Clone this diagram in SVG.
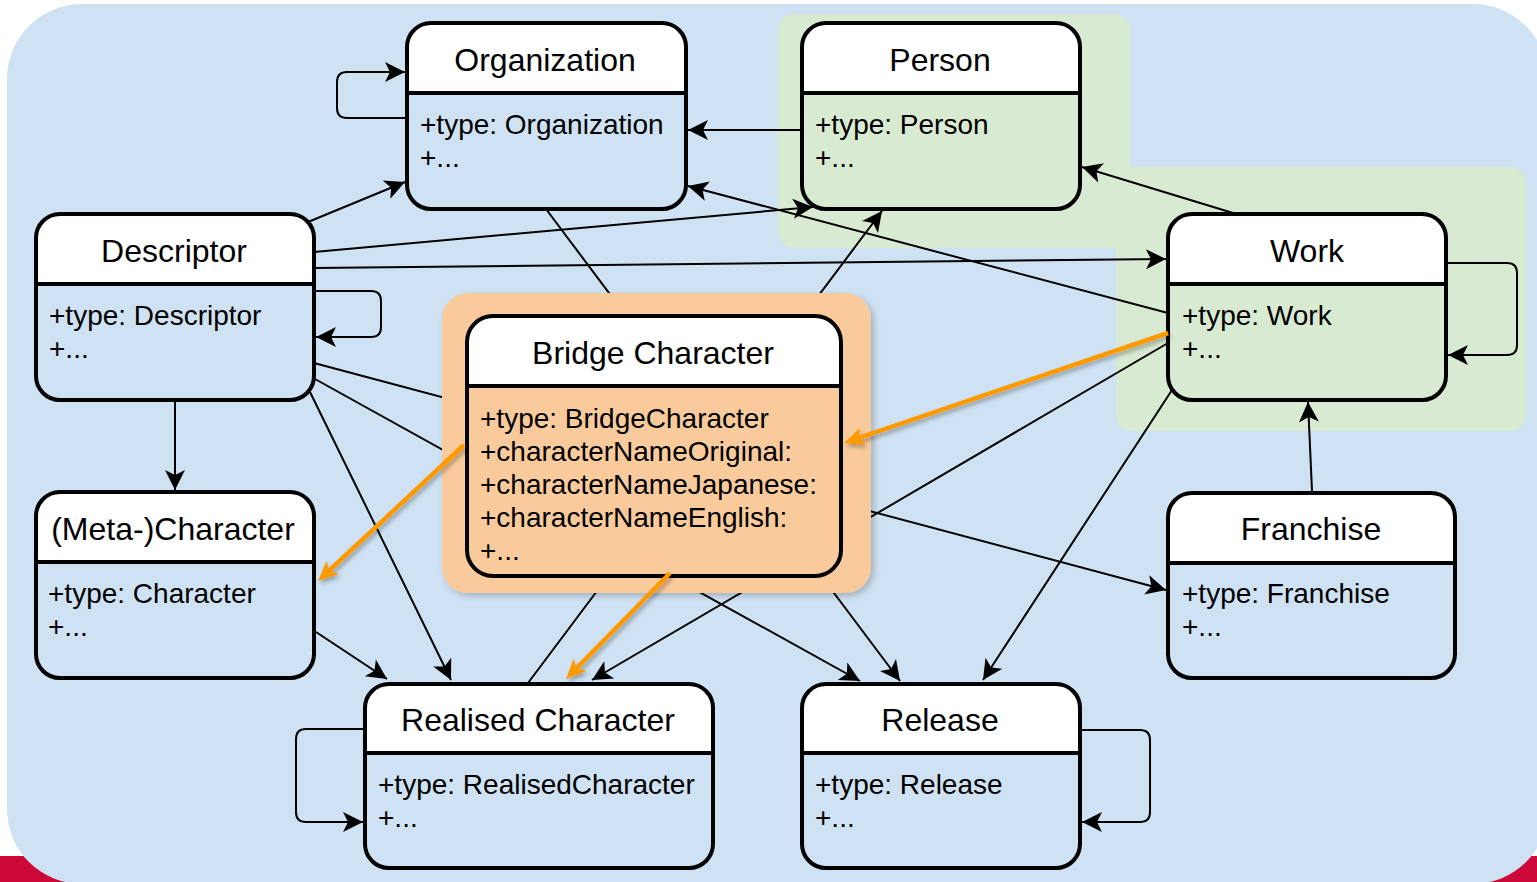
<svg xmlns="http://www.w3.org/2000/svg" width="1537" height="882" viewBox="0 0 1537 882">
  <style>
    .title { font-family: "Liberation Sans", Arial, sans-serif; font-size: 32px; fill: #000; text-anchor: middle; }
    .attr { font-family: "Liberation Sans", Arial, sans-serif; font-size: 28px; fill: #000; }
    .frame { fill: none; stroke: #000; stroke-width: 4; }
    .div { stroke: #000; stroke-width: 4; }
    .head { fill: #fff; }
    .blue { fill: #cfe2f3; }
    .green { fill: #d9ead3; }
    .orange { fill: #f9cb9c; }
    .edge { fill: none; stroke: #000; stroke-width: 2; }
    .hl { fill: none; stroke: #ff9900; stroke-width: 4.5; }
  </style>
  <defs>
    <marker id="arrow" markerUnits="userSpaceOnUse" viewBox="-21 -11 22 22" refX="0" refY="0" markerWidth="22" markerHeight="22" orient="auto">
      <path d="M0,0 L-20,-10 L-15,0 L-20,10 Z" fill="#000"/>
    </marker>
    <marker id="arrowHl" markerUnits="userSpaceOnUse" viewBox="-14 -11 24 22" refX="0" refY="0" markerWidth="24" markerHeight="22" orient="auto">
      <path d="M8,0 L-12,-9 L-7,0 L-12,9 Z" fill="#ff9900"/>
    </marker>
    <filter id="soft" x="-10%" y="-10%" width="125%" height="125%">
      <feDropShadow dx="3" dy="3" stdDeviation="3" flood-color="#000" flood-opacity="0.22"/>
    </filter>
    <filter id="softLine" x="-20%" y="-20%" width="140%" height="140%">
      <feDropShadow dx="2" dy="3" stdDeviation="2" flood-color="#000" flood-opacity="0.3"/>
    </filter>
  </defs>

  <!-- page backdrop -->
  <rect x="0" y="0" width="1537" height="882" fill="#fff"/>
  <rect x="0" y="856" width="1537" height="26" fill="#cc0838"/>
  <rect x="7" y="4" width="1541" height="880" rx="75" ry="75" class="blue"/>

  <!-- grouping areas -->
  <g id="area-person">
    <rect x="778" y="14" width="352" height="234" rx="16" class="green"/>
  </g>
  <g id="area-work">
    <rect x="1116" y="167" width="410" height="264" rx="16" class="green"/>
  </g>

  <!-- connectors -->
  <g id="connectors">
    <path class="edge" d="M407,118 L347,118 Q337,118 337,108 L337,82 Q337,72 347,72 L405,72" marker-end="url(#arrow)"/>
    <path class="edge" d="M802,130 L688,130" marker-end="url(#arrow)"/>
    <path class="edge" d="M308,222 L405,182" marker-end="url(#arrow)"/>
    <path class="edge" d="M314,252 L813,207" marker-end="url(#arrow)"/>
    <path class="edge" d="M314,268 L1166,259" marker-end="url(#arrow)"/>
    <path class="edge" d="M1168,313 L688,186" marker-end="url(#arrow)"/>
    <path class="edge" d="M1233,213 L1082,167" marker-end="url(#arrow)"/>
    <path class="edge" d="M528,683 L882,211" marker-end="url(#arrow)"/>
    <path class="edge" d="M546,209 L900,681" marker-end="url(#arrow)"/>
    <path class="edge" d="M314,363 L1166,590" marker-end="url(#arrow)"/>
    <path class="edge" d="M315,379 L860,681" marker-end="url(#arrow)"/>
    <path class="edge" d="M310,392 L451,680" marker-end="url(#arrow)"/>
    <path class="edge" d="M175,400 L175,490" marker-end="url(#arrow)"/>
    <path class="edge" d="M316,632 L387,679" marker-end="url(#arrow)"/>
    <path class="edge" d="M1168,343 L592,680" marker-end="url(#arrow)"/>
    <path class="edge" d="M1172,390 L983,680" marker-end="url(#arrow)"/>
    <path class="edge" d="M1312,491 L1308,402" marker-end="url(#arrow)"/>
    <path class="edge" d="M316,291 L371,291 Q381,291 381,301 L381,327 Q381,337 371,337 L316,337" marker-end="url(#arrow)"/>
    <path class="edge" d="M1448,263 L1507,263 Q1517,263 1517,273 L1517,345 Q1517,355 1507,355 L1448,355" marker-end="url(#arrow)"/>
    <path class="edge" d="M365,729 L306,729 Q296,729 296,739 L296,812 Q296,822 306,822 L363,822" marker-end="url(#arrow)"/>
    <path class="edge" d="M1080,730 L1140,730 Q1150,730 1150,740 L1150,812 Q1150,822 1140,822 L1082,822" marker-end="url(#arrow)"/>
  </g>

  <!-- highlight panel behind the bridge node -->
  <rect id="bridge-panel" x="442" y="293" width="429" height="300" rx="26" class="orange" filter="url(#soft)"/>

  <g id="organization">
    <rect x="407" y="23" width="279" height="186" rx="24" class="blue"/>
    <path class="head" d="M407,93 L407,47 A24,24 0 0 1 431,23 L662,23 A24,24 0 0 1 686,47 L686,93 Z"/>
    <rect x="407" y="23" width="279" height="186" rx="24" class="frame"/>
    <line x1="407" y1="93" x2="686" y2="93" class="div"/>
    <text x="545" y="71" class="title">Organization</text>
    <text x="420" y="134" class="attr">+type: Organization</text>
    <text x="420" y="167" class="attr">+...</text>
  </g>

  <g id="person">
    <rect x="802" y="23" width="278" height="186" rx="24" class="green"/>
    <path class="head" d="M802,93 L802,47 A24,24 0 0 1 826,23 L1056,23 A24,24 0 0 1 1080,47 L1080,93 Z"/>
    <rect x="802" y="23" width="278" height="186" rx="24" class="frame"/>
    <line x1="802" y1="93" x2="1080" y2="93" class="div"/>
    <text x="940" y="71" class="title">Person</text>
    <text x="815" y="134" class="attr">+type: Person</text>
    <text x="815" y="167" class="attr">+...</text>
  </g>

  <g id="descriptor">
    <rect x="36" y="214" width="278" height="186" rx="24" class="blue"/>
    <path class="head" d="M36,284 L36,238 A24,24 0 0 1 60,214 L290,214 A24,24 0 0 1 314,238 L314,284 Z"/>
    <rect x="36" y="214" width="278" height="186" rx="24" class="frame"/>
    <line x1="36" y1="284" x2="314" y2="284" class="div"/>
    <text x="174" y="262" class="title">Descriptor</text>
    <text x="49" y="325" class="attr">+type: Descriptor</text>
    <text x="49" y="358" class="attr">+...</text>
  </g>

  <g id="work">
    <rect x="1168" y="214" width="278" height="186" rx="24" class="green"/>
    <path class="head" d="M1168,284 L1168,238 A24,24 0 0 1 1192,214 L1422,214 A24,24 0 0 1 1446,238 L1446,284 Z"/>
    <rect x="1168" y="214" width="278" height="186" rx="24" class="frame"/>
    <line x1="1168" y1="284" x2="1446" y2="284" class="div"/>
    <text x="1307" y="262" class="title">Work</text>
    <text x="1182" y="325" class="attr">+type: Work</text>
    <text x="1182" y="358" class="attr">+...</text>
  </g>

  <g id="bridge-character">
    <rect x="467" y="316" width="374" height="260" rx="26" class="orange"/>
    <path class="head" d="M467,386 L467,342 A26,26 0 0 1 493,316 L815,316 A26,26 0 0 1 841,342 L841,386 Z"/>
    <rect x="467" y="316" width="374" height="260" rx="26" class="frame"/>
    <line x1="467" y1="386" x2="841" y2="386" class="div"/>
    <text x="653" y="364" class="title">Bridge Character</text>
    <text x="480" y="428" class="attr">+type: BridgeCharacter</text>
    <text x="480" y="461" class="attr">+characterNameOriginal:</text>
    <text x="480" y="494" class="attr">+characterNameJapanese:</text>
    <text x="480" y="527" class="attr">+characterNameEnglish:</text>
    <text x="480" y="560" class="attr">+...</text>
  </g>

  <g id="meta-character">
    <rect x="36" y="492" width="278" height="186" rx="24" class="blue"/>
    <path class="head" d="M36,562 L36,516 A24,24 0 0 1 60,492 L290,492 A24,24 0 0 1 314,516 L314,562 Z"/>
    <rect x="36" y="492" width="278" height="186" rx="24" class="frame"/>
    <line x1="36" y1="562" x2="314" y2="562" class="div"/>
    <text x="173" y="540" class="title">(Meta-)Character</text>
    <text x="48" y="603" class="attr">+type: Character</text>
    <text x="48" y="636" class="attr">+...</text>
  </g>

  <g id="franchise">
    <rect x="1168" y="493" width="287" height="185" rx="24" class="blue"/>
    <path class="head" d="M1168,563 L1168,517 A24,24 0 0 1 1192,493 L1431,493 A24,24 0 0 1 1455,517 L1455,563 Z"/>
    <rect x="1168" y="493" width="287" height="185" rx="24" class="frame"/>
    <line x1="1168" y1="563" x2="1455" y2="563" class="div"/>
    <text x="1311" y="540" class="title">Franchise</text>
    <text x="1182" y="603" class="attr">+type: Franchise</text>
    <text x="1182" y="636" class="attr">+...</text>
  </g>

  <g id="realised-character">
    <rect x="365" y="684" width="348" height="184" rx="24" class="blue"/>
    <path class="head" d="M365,753 L365,708 A24,24 0 0 1 389,684 L689,684 A24,24 0 0 1 713,708 L713,753 Z"/>
    <rect x="365" y="684" width="348" height="184" rx="24" class="frame"/>
    <line x1="365" y1="753" x2="713" y2="753" class="div"/>
    <text x="538" y="731" class="title">Realised Character</text>
    <text x="378" y="794" class="attr">+type: RealisedCharacter</text>
    <text x="378" y="827" class="attr">+...</text>
  </g>

  <g id="release">
    <rect x="802" y="684" width="278" height="184" rx="24" class="blue"/>
    <path class="head" d="M802,753 L802,708 A24,24 0 0 1 826,684 L1056,684 A24,24 0 0 1 1080,708 L1080,753 Z"/>
    <rect x="802" y="684" width="278" height="184" rx="24" class="frame"/>
    <line x1="802" y1="753" x2="1080" y2="753" class="div"/>
    <text x="940" y="731" class="title">Release</text>
    <text x="815" y="794" class="attr">+type: Release</text>
    <text x="815" y="827" class="attr">+...</text>
  </g>

  <!-- highlighted derivation links -->
  <g id="highlight-connectors" filter="url(#softLine)">
    <path class="hl" d="M1168,333 L851.6,440.4" marker-end="url(#arrowHl)"/>
    <path class="hl" d="M464,445 L323.9,575.5" marker-end="url(#arrowHl)"/>
    <path class="hl" d="M670,573 L571.6,673.3" marker-end="url(#arrowHl)"/>
  </g>
</svg>
